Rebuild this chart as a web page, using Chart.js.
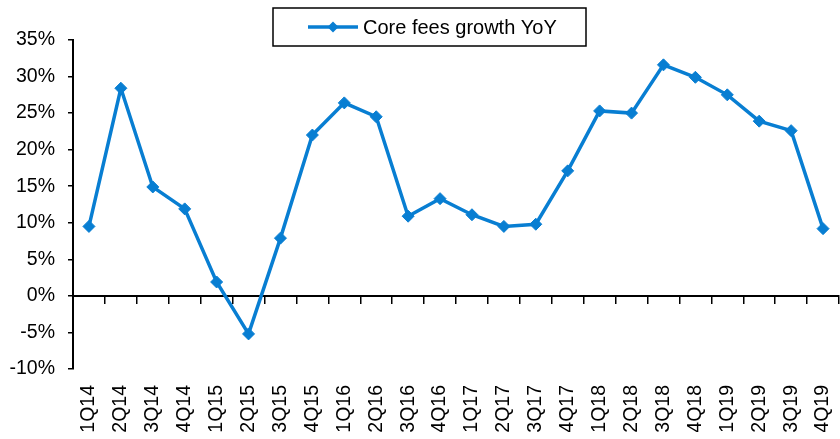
<!DOCTYPE html>
<html>
<head>
<meta charset="utf-8">
<script src="https://cdn.jsdelivr.net/npm/chart.js@4.4.1/dist/chart.umd.min.js"></script>
<style>
html,body{margin:0;padding:0;background:#fff;}
#wrap{width:840px;height:439px;position:relative;}
</style>
</head>
<body>
<div id="wrap"><canvas id="c" width="840" height="439"></canvas></div>
<script>
// ---- data ----
const categories = ['1Q14','2Q14','3Q14','4Q14','1Q15','2Q15','3Q15','4Q15','1Q16','2Q16','3Q16','4Q16',
                    '1Q17','2Q17','3Q17','4Q17','1Q18','2Q18','3Q18','4Q18','1Q19','2Q19','3Q19','4Q19'];
const seriesLabel = 'Core fees growth YoY';
const coreFeesGrowth = [9.5, 28.4, 14.9, 11.9, 1.9, -5.2, 7.9, 22.0, 26.4, 24.5, 10.9, 13.3,
                        11.1, 9.5, 9.8, 17.1, 25.3, 25.0, 31.6, 29.9, 27.5, 23.9, 22.6, 9.2];
const yTickValues = [-10, -5, 0, 5, 10, 15, 20, 25, 30, 35];
const yTickLabels = ['-10%','-5%','0%','5%','10%','15%','20%','25%','30%','35%'];

const BLUE = '#087ed2';
const FONT = '"Liberation Sans", Arial, sans-serif';

const boxLegend = {
  id: 'boxLegend',
  afterDraw(chart) {
    const ctx = chart.ctx;
    const ds = chart.data.datasets[0];
    const bx = 273, by = 8, bw = 313, bh = 38;
    const cy = by + bh / 2;
    ctx.save();
    ctx.fillStyle = '#fff';
    ctx.fillRect(bx, by, bw, bh);
    ctx.strokeStyle = '#000';
    ctx.lineWidth = 1.5;
    ctx.strokeRect(bx, by, bw, bh);
    ctx.strokeStyle = ds.borderColor;
    ctx.lineWidth = 3.5;
    ctx.beginPath();
    ctx.moveTo(308, cy);
    ctx.lineTo(358, cy);
    ctx.stroke();
    ctx.fillStyle = ds.borderColor;
    ctx.beginPath();
    ctx.moveTo(333, cy - 5.5);
    ctx.lineTo(338.5, cy);
    ctx.lineTo(333, cy + 5.5);
    ctx.lineTo(327.5, cy);
    ctx.closePath();
    ctx.fill();
    ctx.fillStyle = '#000';
    ctx.font = '20px ' + FONT;
    ctx.textBaseline = 'middle';
    ctx.textAlign = 'left';
    ctx.fillText(ds.label, 363, cy + 1);
    ctx.restore();
  }
};

new Chart(document.getElementById('c'), {
  type: 'line',
  data: {
    labels: categories,
    datasets: [{
      label: seriesLabel,
      data: coreFeesGrowth,
      xAxisID: 'x',
      yAxisID: 'y',
      borderColor: BLUE,
      backgroundColor: BLUE,
      borderWidth: 3.5,
      pointStyle: 'rectRot',
      pointRadius: 6,
      pointBorderWidth: 1,
      pointBackgroundColor: BLUE,
      pointBorderColor: BLUE,
      tension: 0,
      fill: false,
      clip: false
    }]
  },
  options: {
    responsive: false,
    animation: false,
    devicePixelRatio: 1,
    layout: { autoPadding: false, padding: { left: 0, right: 1, top: 40, bottom: 7 } },
    plugins: {
      legend: { display: false },
      tooltip: { enabled: false }
    },
    scales: {
      y: {
        position: 'left',
        min: -10,
        max: 35,
        afterBuildTicks(scale) { scale.ticks = yTickValues.map(v => ({ value: v })); },
        afterFit(scale) { scale.width = 73; },
        ticks: {
          callback: (v) => yTickLabels[yTickValues.indexOf(v)],
          color: '#000',
          font: { family: FONT, size: 19.5 },
          padding: 13
        },
        grid: { display: true, drawOnChartArea: false, drawTicks: true, tickLength: 5, color: '#000', lineWidth: 1.5 },
        border: { display: true, color: '#000', width: 2 }
      },
      x: {
        type: 'category',
        labels: categories,
        position: { y: 0 },
        offset: true,
        ticks: { display: false },
        grid: { display: true, offset: true, drawOnChartArea: false, drawTicks: true, tickLength: 7, color: '#000', lineWidth: 1.5 },
        border: { display: true, color: '#000', width: 2 }
      },
      x2: {
        type: 'category',
        labels: categories,
        position: 'bottom',
        offset: true,
        afterFit(scale) { scale.height = 63; scale.paddingLeft = 0; scale.paddingRight = 0; },
        ticks: {
          autoSkip: false,
          maxRotation: 90,
          minRotation: 90,
          padding: 16,
          color: '#000',
          font: { family: FONT, size: 19.5 }
        },
        grid: { display: false, drawTicks: false },
        border: { display: false }
      }
    }
  },
  plugins: [boxLegend]
});
</script>
</body>
</html>
